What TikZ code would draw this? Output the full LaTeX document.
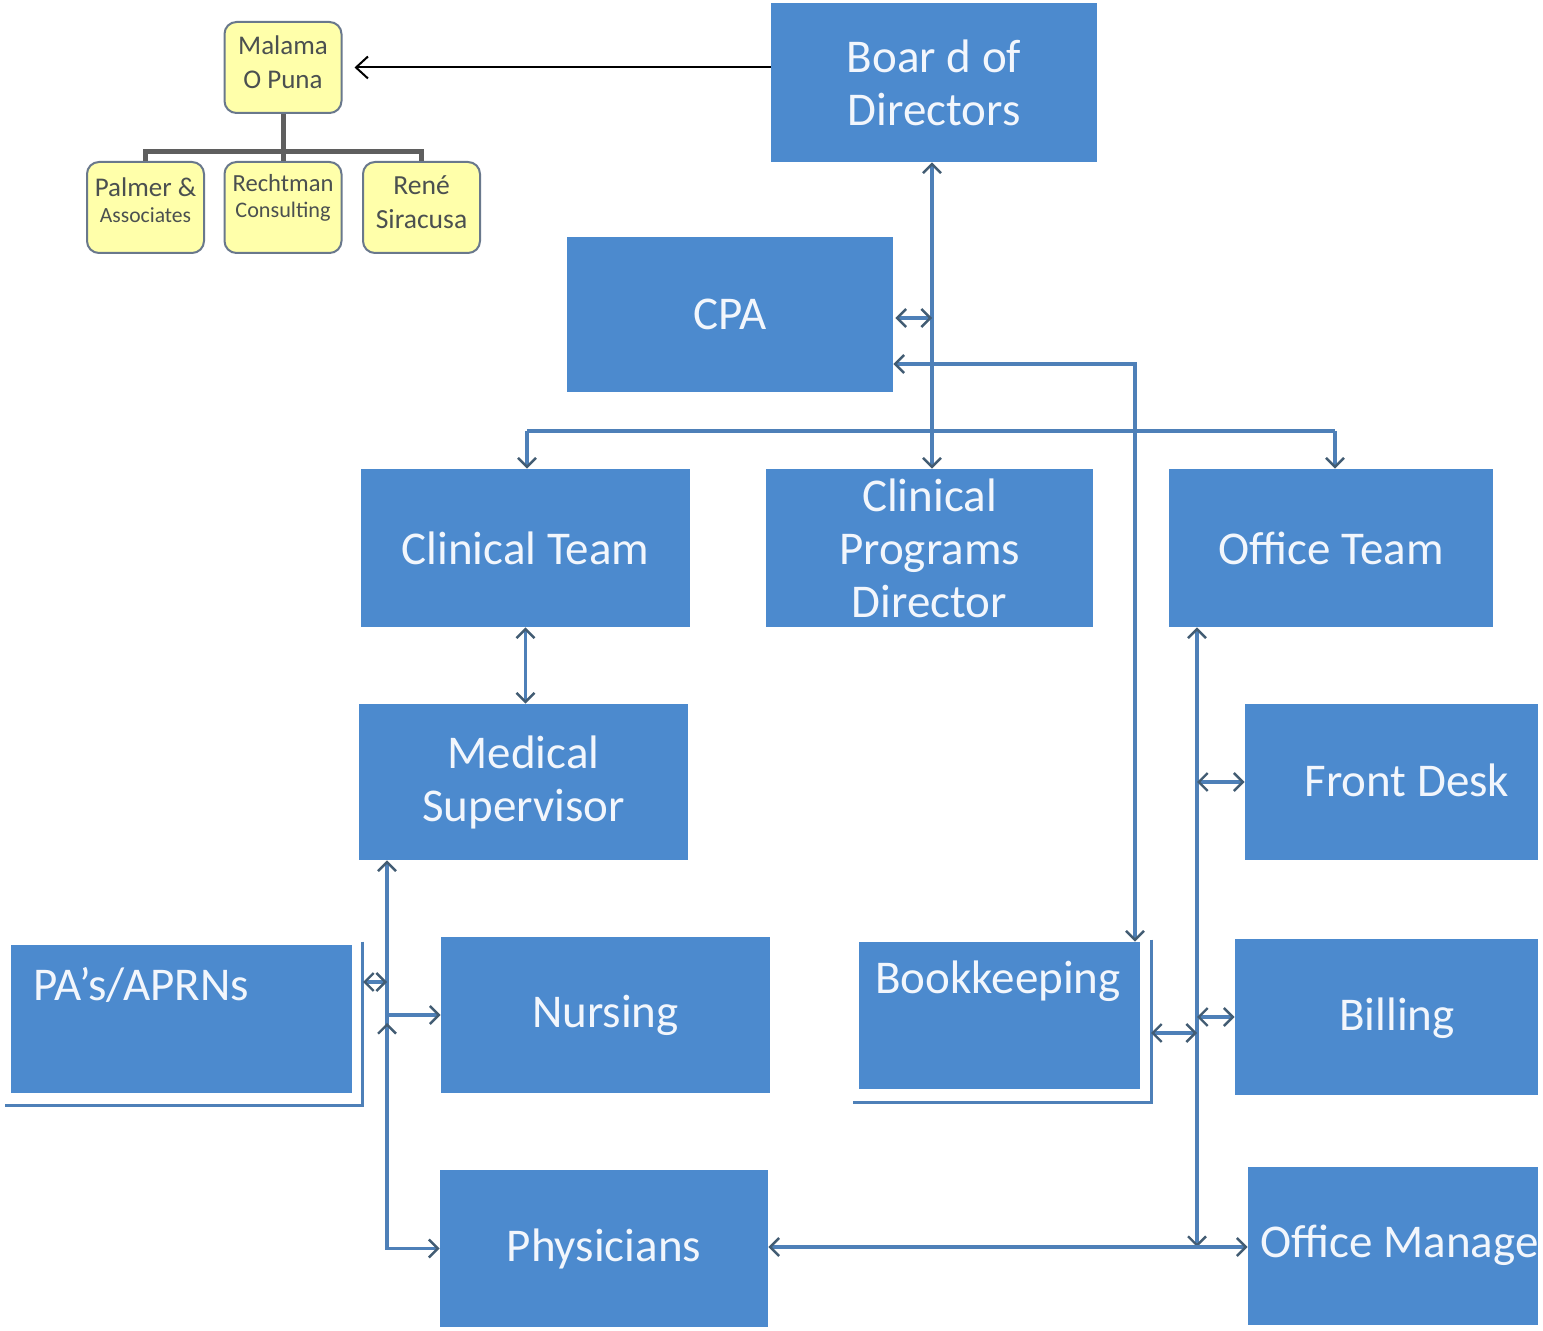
\documentclass[tikz,border=0pt]{standalone}
\usepackage{fontspec}
\setmainfont{Carlito}
\usetikzlibrary{arrows.meta,calc}
\definecolor{boxblue}{RGB}{76,138,206}
\definecolor{linkblue}{RGB}{78,128,184}
\definecolor{tipgray}{RGB}{66,92,115}
\definecolor{ylw}{RGB}{255,255,170}
\definecolor{ylwborder}{RGB}{105,120,140}
\definecolor{ylwtext}{RGB}{75,80,80}
\definecolor{orgline}{RGB}{95,95,95}
\definecolor{boxtext}{RGB}{242,246,252}
\begin{document}
\begin{tikzpicture}[x=0.5pt,y=-0.5pt,
  bluebox/.style={fill=boxblue, draw=none, text=boxtext, inner sep=0pt,
    font=\fontsize{23.5}{26.5}\selectfont, align=center},
  boxlabel/.style={text=boxtext, inner sep=0pt, font=\fontsize{23.5}{26.5}\selectfont},
  ybox/.style={fill=ylw, draw=ylwborder, line width=1pt, rounded corners=6pt,
    inner sep=0pt, minimum width=58.5pt, minimum height=45.5pt},
  ytext/.style={text=ylwtext, inner sep=0pt, align=center},
  link/.style={draw=linkblue, line width=1.9pt},
  both/.style={link, {Straight Barb[length=4.5pt,width=9pt,color=tipgray,line width=1.2pt]}-{Straight Barb[length=4.5pt,width=9pt,color=tipgray,line width=1.2pt]}},
  toend/.style={link, -{Straight Barb[length=4.5pt,width=9pt,color=tipgray,line width=1.2pt]}},
  frame/.style={draw=linkblue, line width=1.2pt}
]
\useasboundingbox (0,0) rectangle (1543,1331);
\clip (0,0) rectangle (1543,1331);
\fill[white] (0,0) rectangle (1543,1331);

% ---------- blue boxes ----------
\node[bluebox, minimum width=163pt, minimum height=79.5pt] (board) at (934,82.5) {Boar d of\\Directors};
\node[bluebox, minimum width=163pt, minimum height=77.5pt] (cpa) at (730,314.5) {CPA};
\node[bluebox, minimum width=164.5pt, minimum height=79pt] (ct) at (525.5,548) {Clinical Team};
\node[bluebox, minimum width=163.5pt, minimum height=79pt] (cpd) at (929.5,548) {Clinical\\Programs\\Director};
\node[bluebox, minimum width=162pt, minimum height=79pt] (ot) at (1331,548) {Office Team};
\node[bluebox, minimum width=164.5pt, minimum height=78pt] (ms) at (523.5,782) {Medical\\Supervisor};
\node[bluebox, minimum width=146.5pt, minimum height=78pt] (fd) at (1391.5,782) {};
\node[boxlabel] (fdt) at (1407,780) {Front Desk};
\node[bluebox, minimum width=170.5pt, minimum height=74pt] (pa) at (181.5,1019) {};
\node[boxlabel, anchor=west] (pat) at (33,985) {PA’s/APRNs};
\node[bluebox, minimum width=164.5pt, minimum height=78pt] (nurs) at (605.5,1015) {Nursing};
\node[bluebox, minimum width=140.5pt, minimum height=73.5pt] (book) at (999.5,1015.5) {};
\node[boxlabel] (bookt) at (998,981) {Bookkeeping};
\node[bluebox, minimum width=151.5pt, minimum height=78pt] (bill) at (1386.5,1017) {};
\node[boxlabel] (billt) at (1397,1018) {Billing};
\node[bluebox, minimum width=164pt, minimum height=78.5pt] (phys) at (604,1248.5) {Physicians};
\node[bluebox, minimum width=145pt, minimum height=79pt] (om) at (1393,1246) {};
\begin{scope}
  \clip (om.north west) rectangle (om.south east);
  \node[boxlabel, anchor=west] (omt) at (1260,1245) {Office Manager};
\end{scope}

% ---------- yellow org chart ----------
\node[ybox] (malama) at (283,67.5) {};
\node[ytext, font=\fontsize{13.5}{17}\selectfont] (malamat) at (283,62) {Malama\\O Puna};
\node[ybox] (palmer) at (145.5,207.5) {};
\node[ytext] (palmert) at (145.5,200) {{\fontsize{13.5}{15}\selectfont Palmer \&}\\[1pt]{\fontsize{10.8}{13}\selectfont Associates}};
\node[ybox] (recht) at (283,207.5) {};
\node[ytext] (rechtt) at (283,198) {{\fontsize{12.3}{14}\selectfont Rechtman}\\[1pt]{\fontsize{11.1}{13}\selectfont Consulting}};
\node[ybox] (rene) at (421.5,207.5) {};
\node[ytext, font=\fontsize{13.8}{17}\selectfont] (renet) at (421.5,202) {René\\Siracusa};
\coordinate (orgbar) at (283,152);
\draw[orgline, line width=2.5pt] (malama.south) -- (recht.north);
\draw[orgline, line width=2.5pt] (palmer.north) |- (orgbar) -| (rene.north);

\draw[black, line width=1pt, -{Straight Barb[length=6pt,width=11pt,line width=1pt]}, shorten >=6pt]
  (malama.east -| board.west) -- (malama.east);

% ---------- blue connectors ----------
\coordinate (trunkx) at (932,0);
\draw[both] (board.south -| trunkx) -- (cpd.north -| trunkx);

\coordinate (cpaArr) at (932,318);
\draw[both, shorten <=1pt] (cpaArr -| cpa.east) -- (cpaArr);

\coordinate (bkTurn) at (1135,364);
\draw[both] (bkTurn -| cpa.east) -- (bkTurn) -- (bkTurn |- book.north);

\coordinate (busL) at (527,431);
\coordinate (busR) at (1335,431);
\draw[link] (busL) -- (busR);
\draw[toend] (busL) -- (busL |- ct.north);
\draw[toend] (busR) -- (busR |- ot.north);

\draw[both] (ct.south) -- (ct.south |- ms.north);

% left side
\coordinate (lv) at (387,0);
\draw[both] (lv |- ms.south) -- (lv |- phys.west) -- (phys.west);
\draw[toend] (lv |- nurs.west) -- (nurs.west);
\draw[toend] ($(lv |- nurs.west)+(0,45)$) -- ($(lv |- nurs.west)+(0,8)$);
\draw[frame] ($(pa.north east)+(10,-3)$) |- ($(pa.south west)+(-6,12)$);
\coordinate (paArr) at (363,982);
\draw[both] (paArr) -- (paArr -| lv);

% right side
\coordinate (rv) at (1197,0);
\coordinate (botline) at (0,1247);
\draw[both] (rv |- ot.south) -- (rv |- botline);
\draw[both] (phys.east |- botline) -- (om.west |- botline);
\draw[both] (rv |- fd.west) -- (fd.west);
\draw[both] (rv |- bill.west) -- (bill.west);
\draw[frame] ($(book.north east)+(11,-2)$) |- ($(book.south west)+(-6,13)$);
\coordinate (bkArr) at (1151,1033);
\draw[both] (bkArr) -- (bkArr -| rv);
\end{tikzpicture}
\end{document}
